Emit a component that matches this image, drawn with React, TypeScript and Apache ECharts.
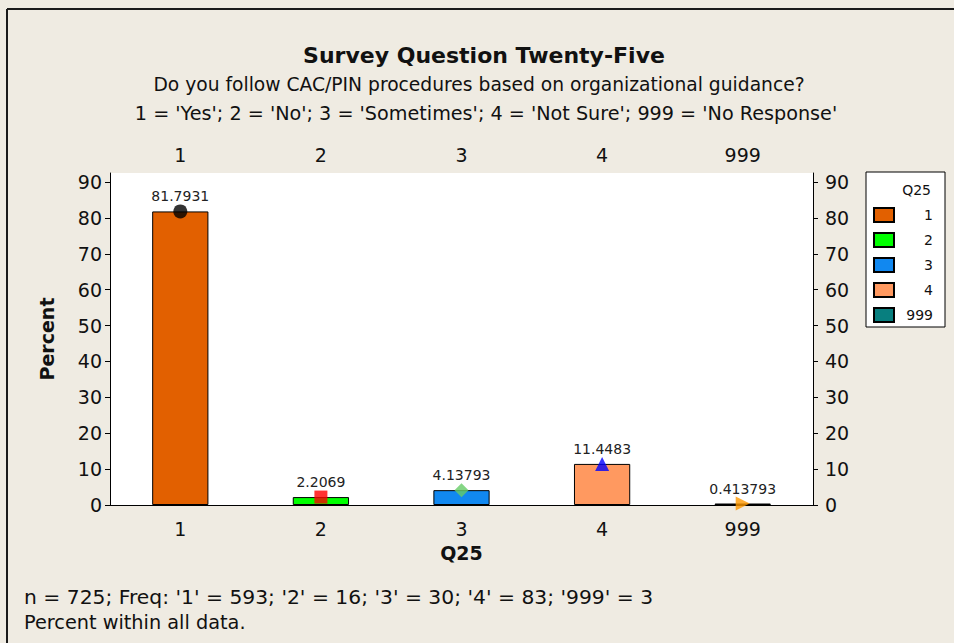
import React, { useEffect, useRef } from "react";
import * as echarts from "echarts";

const categories = ["1", "2", "3", "4", "999"];
const percents = [81.7931, 2.2069, 4.13793, 11.4483, 0.413793];
const freqs = [593, 16, 30, 83, 3];
const totalN = 725;
const yTicks = [0, 10, 20, 30, 40, 50, 60, 70, 80, 90];

const barColors = ["#E26000", "#00FF00", "#1188F0", "#FF9960", "#087F7F"];
const markerSymbols = ["circle", "rect", "diamond", "triangle", "triangle"];
const markerColors = ["#000000", "#FF0000", "#66CC66", "#0000FF", "#FF9900"];
const markerSizes = [14, 13, 14, 14, 14];
const markerRotates = [0, 0, 0, 0, -90];

const FONT = "DejaVu Sans";

export default function App() {
  const ref = useRef<HTMLDivElement>(null);
  useEffect(() => {
    if (!ref.current) return;
    const chart = echarts.init(ref.current, null, { renderer: "svg" });
    const barSeries = categories.map((c, i) => ({
      type: "bar",
      name: c,
      xAxisIndex: 0,
      yAxisIndex: 0,
      barGap: "-100%",
      barWidth: "40%",
      data: categories.map((_, j) => (j === i ? percents[i] : "-")),
      itemStyle: { color: barColors[i], borderColor: "#000", borderWidth: 1 },
      label: {
        show: true,
        position: "top",
        distance: 8,
        color: "#222",
        fontSize: 14,
        fontFamily: FONT,
        formatter: (p: any) => String(p.value),
      },
    }));
    const scatter = {
      type: "scatter",
      name: "markers",
      xAxisIndex: 0,
      yAxisIndex: 0,
      z: 5,
      data: percents.map((v, i) => ({
        value: [i, v],
        symbol: markerSymbols[i],
        symbolSize: markerSizes[i],
        symbolRotate: markerRotates[i],
        itemStyle: { color: markerColors[i] },
      })),
    };
    const footer1 =
      "n = " +
      totalN +
      "; Freq: " +
      categories.map((c, i) => "'" + c + "' = " + freqs[i]).join("; ");
    const axisText = { color: "#111", fontSize: 19, fontFamily: FONT };
    chart.setOption({
      animation: false,
      backgroundColor: "#EFEBE2",
      textStyle: { fontFamily: FONT },
      grid: {
        left: 110,
        right: 141,
        top: 173,
        bottom: 138,
        show: true,
        backgroundColor: "#FFFFFF",
        borderWidth: 0,
      },
      legend: {
        data: categories,
        orient: "vertical",
        left: 866,
        top: 172,
        padding: [35, 12, 4, 7],
        itemWidth: 20,
        itemHeight: 14,
        itemGap: 9,
        backgroundColor: "#FFFFFF",
        borderColor: "#000",
        borderWidth: 1,
        icon: "rect",
        formatter: (name: string) => "{a|" + name + "}",
        textStyle: {
          fontSize: 14,
          color: "#111",
          fontFamily: FONT,
          rich: { a: { width: 34, align: "right", fontSize: 14, color: "#111", fontFamily: FONT } },
        },
      },
      xAxis: [
        {
          type: "category",
          data: categories,
          position: "bottom",
          name: "Q25",
          nameLocation: "middle",
          nameGap: 38,
          nameTextStyle: { fontSize: 19, fontWeight: "bold", color: "#111", fontFamily: FONT },
          axisLine: { lineStyle: { color: "#000", width: 1 } },
          axisTick: { alignWithLabel: true, length: 5, lineStyle: { color: "#000" } },
          axisLabel: { ...axisText, margin: 14 },
          splitLine: { show: false },
        },
        {
          type: "category",
          data: categories,
          position: "top",
          axisLine: { lineStyle: { color: "#000", width: 1 } },
          axisTick: { alignWithLabel: true, length: 5, lineStyle: { color: "#000" } },
          axisLabel: { ...axisText, margin: 9 },
          splitLine: { show: false },
        },
      ],
      yAxis: [
        {
          type: "value",
          min: 0,
          max: 92.5,
          interval: 10,
          position: "left",
          name: "Percent",
          nameLocation: "middle",
          nameGap: 54,
          nameTextStyle: { fontSize: 19, fontWeight: "bold", color: "#111", fontFamily: FONT },
          axisLine: { show: true, lineStyle: { color: "#000", width: 1 } },
          axisTick: { show: true, length: 5, lineStyle: { color: "#000" }, customValues: yTicks },
          axisLabel: { ...axisText, margin: 8, customValues: yTicks },
          splitLine: { show: false },
        },
        {
          type: "value",
          min: 0,
          max: 92.5,
          interval: 10,
          position: "right",
          axisLine: { show: true, lineStyle: { color: "#000", width: 1 } },
          axisTick: { show: true, length: 5, lineStyle: { color: "#000" }, customValues: yTicks },
          axisLabel: { ...axisText, margin: 12, customValues: yTicks },
          splitLine: { show: false },
        },
      ],
      graphic: [
        { type: "line", shape: { x1: 7, y1: 9, x2: 954, y2: 9 }, style: { stroke: "#1a1a1a", lineWidth: 2 } },
        { type: "line", shape: { x1: 7, y1: 9, x2: 7, y2: 643 }, style: { stroke: "#1a1a1a", lineWidth: 2 } },
        {
          type: "text",
          x: 484,
          y: 55,
          style: {
            text: "Survey Question Twenty-Five",
            fontSize: 22,
            fontWeight: "bold",
            fontFamily: FONT,
            fill: "#111",
            textAlign: "center",
            textVerticalAlign: "middle",
          },
        },
        {
          type: "text",
          x: 479,
          y: 84,
          style: {
            text: "Do you follow CAC/PIN procedures based on organizational guidance?",
            fontSize: 18.7,
            fontFamily: FONT,
            fill: "#111",
            textAlign: "center",
            textVerticalAlign: "middle",
          },
        },
        {
          type: "text",
          x: 486,
          y: 113,
          style: {
            text: "1 = 'Yes'; 2 = 'No'; 3 = 'Sometimes'; 4 = 'Not Sure'; 999 = 'No Response'",
            fontSize: 19.2,
            fontFamily: FONT,
            fill: "#111",
            textAlign: "center",
            textVerticalAlign: "middle",
          },
        },
        {
          type: "text",
          x: 931,
          y: 190,
          style: {
            text: "Q25",
            fontSize: 14,
            fontFamily: FONT,
            fill: "#111",
            textAlign: "right",
            textVerticalAlign: "middle",
          },
          z: 100,
        },
        {
          type: "text",
          x: 24,
          y: 597,
          style: {
            text: footer1,
            fontSize: 20.3,
            fontFamily: FONT,
            fill: "#111",
            textAlign: "left",
            textVerticalAlign: "middle",
          },
        },
        {
          type: "text",
          x: 24,
          y: 622,
          style: {
            text: "Percent within all data.",
            fontSize: 19.3,
            fontFamily: FONT,
            fill: "#111",
            textAlign: "left",
            textVerticalAlign: "middle",
          },
        },
      ],
      series: [...barSeries, scatter],
    });
    return () => chart.dispose();
  }, []);
  return <div ref={ref} style={{ position: "absolute", left: 0, top: 0, width: 954, height: 643 }} />;
}
